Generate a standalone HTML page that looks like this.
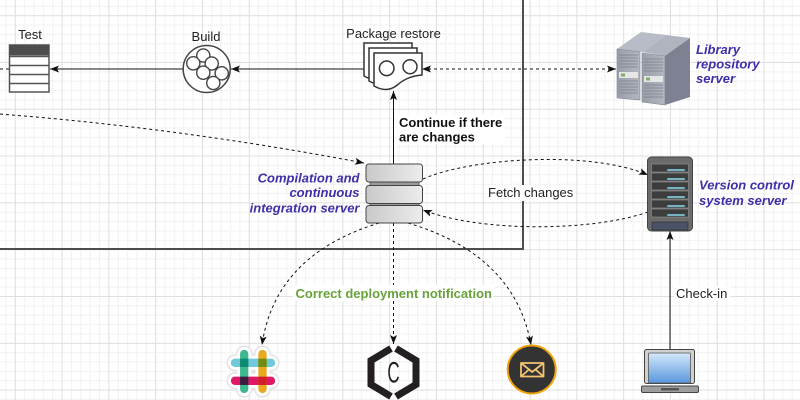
<!DOCTYPE html>
<html><head><meta charset="utf-8"><style>
html,body{margin:0;padding:0;background:#fff;}
svg{display:block;}
text{font-family:"Liberation Sans",Arial,sans-serif;}
</style></head><body>
<svg width="800" height="400" viewBox="0 0 800 400" xmlns="http://www.w3.org/2000/svg">
<defs>
<pattern id="g" x="14.8" y="15.2" width="46.8" height="46.8" patternUnits="userSpaceOnUse">
<path d="M9.86 0V46.8M19.22 0V46.8M28.58 0V46.8M37.94 0V46.8M0 9.86H46.8M0 19.22H46.8M0 28.58H46.8M0 37.94H46.8" stroke="#e4e4e4" stroke-width="1" stroke-dasharray="1 1" fill="none"/>
<path d="M0.5 0V46.8M0 0.5H46.8" stroke="#dedede" stroke-width="1" fill="none"/>
</pattern>
<marker id="a" viewBox="0 0 9 7" refX="9" refY="3.5" markerWidth="9" markerHeight="7" markerUnits="userSpaceOnUse" orient="auto-start-reverse"><path d="M9,3.5 L0,0 L2,3.5 L0,7 Z" fill="#111"/></marker>
<linearGradient id="ci" x1="0" y1="0" x2="1" y2="0"><stop offset="0" stop-color="#c9c9c9"/><stop offset="1" stop-color="#ececec"/></linearGradient>
<linearGradient id="sf" x1="0" y1="0" x2="1" y2="0"><stop offset="0" stop-color="#9a9ea8"/><stop offset="1" stop-color="#b3b7c0"/></linearGradient>
<linearGradient id="scr" x1="0" y1="0" x2="0" y2="1"><stop offset="0" stop-color="#d4e8fa"/><stop offset="1" stop-color="#5b97de"/></linearGradient>
</defs>
<rect width="800" height="400" fill="#fff"/>
<rect width="800" height="400" fill="url(#g)"/>

<!-- big box -->
<rect x="-10" y="-10" width="533" height="259" fill="none" stroke="#4d4d4d" stroke-width="2"/>

<!-- connectors -->
<g fill="none" stroke="#111" stroke-width="1">
<path d="M0,69 H9" stroke-dasharray="3 3"/>
<path d="M183,69 H50" marker-end="url(#a)"/>
<path d="M364,69 H231" marker-end="url(#a)"/>
<path d="M422,69 H616" stroke-dasharray="3 3" marker-start="url(#a)" marker-end="url(#a)"/>
<path d="M393.5,164 V91" marker-end="url(#a)"/>
<path d="M0,114 Q180,128 364,163" stroke-dasharray="3 3" marker-end="url(#a)"/>
<path d="M423,179 C470,158 590,150 648,175" stroke-dasharray="3 3" marker-end="url(#a)"/>
<path d="M648,212 C590,232 480,232 423,210" stroke-dasharray="3 3" marker-end="url(#a)"/>
<path d="M379,223 Q275,255 262,345" stroke-dasharray="3 3" marker-end="url(#a)"/>
<path d="M393.5,223 V344" stroke-dasharray="3 3" marker-end="url(#a)"/>
<path d="M408,223 Q515,255 531,345" stroke-dasharray="3 3" marker-end="url(#a)"/>
<path d="M670,349 V231" marker-end="url(#a)"/>
</g>

<!-- Test -->
<rect x="9.5" y="45" width="39.5" height="47" fill="#fff" stroke="#555" stroke-width="1.5"/>
<rect x="9.5" y="45" width="39.5" height="10.5" fill="#4d4d4d"/>
<path d="M9.5,56.5 H49 M9.5,65.5 H49 M9.5,74.5 H49 M9.5,83.5 H49" stroke="#555" stroke-width="1.5"/>
<text x="30" y="39" font-size="13" text-anchor="middle" fill="#222">Test</text>

<!-- Build -->
<circle cx="206.7" cy="69" r="23.5" fill="#fff" stroke="#444" stroke-width="1.5"/>
<g fill="#fff" stroke="#444" stroke-width="1.4">
<circle cx="203.3" cy="55.5" r="6.6"/>
<circle cx="193.3" cy="63.3" r="6.6"/>
<circle cx="211.7" cy="63.5" r="6.6"/>
<circle cx="203.3" cy="72.7" r="6.6"/>
<circle cx="221.7" cy="73.3" r="6.6"/>
<circle cx="213.3" cy="83" r="6.6"/>
</g>
<text x="206" y="41" font-size="13" text-anchor="middle" fill="#222">Build</text>

<!-- Package restore -->
<g fill="#fff" stroke="#333" stroke-width="1.5">
<path transform="translate(-10,-10)" d="M374,53 H422 V75 C410,76 403,80 396,86 C389,91 381,90 374,86 Z"/>
<path transform="translate(-5,-5)" d="M374,53 H422 V75 C410,76 403,80 396,86 C389,91 381,90 374,86 Z"/>
<path d="M374,53 H422 V75 C410,76 403,80 396,86 C389,91 381,90 374,86 Z"/>
<circle cx="386.7" cy="68.3" r="7.3"/>
<circle cx="410" cy="66.7" r="7"/>
</g>
<text x="393.5" y="38" font-size="13" text-anchor="middle" fill="#222">Package restore</text>

<!-- Library repository server -->
<polygon points="617,49 641,32 666,35 642,52" fill="#b8bcc6"/>
<polygon points="617,49 640,52 640,100 617,98" fill="url(#sf)" stroke="#80848e" stroke-width="0.6"/>
<polygon points="642,52 666,35 690,38 666,56" fill="#b0b4be"/>
<polygon points="642,53 665,56 665,105 642,102" fill="url(#sf)" stroke="#80848e" stroke-width="0.6"/>
<polygon points="665,56 690,38 690,97 665,105" fill="#7d8191"/>
<g stroke="#7c808a" stroke-width="0.8">
<path d="M619,55H638M619,58H638M619,61H638M619,64H638M619,67H638M619,81H638M619,84H638M619,87H638M619,90H638M619,93H638"/>
<path d="M644,59H663M644,62H663M644,65H663M644,68H663M644,71H663M644,85H663M644,88H663M644,91H663M644,94H663M644,97H663"/>
</g>
<rect x="619" y="72" width="19" height="6" fill="#e6e6e6"/>
<rect x="621" y="73.5" width="4" height="3" fill="#7fae6a"/>
<rect x="644" y="76" width="19" height="6" fill="#e6e6e6"/>
<rect x="646" y="77.5" width="4" height="3" fill="#7fae6a"/>
<g font-size="13" font-weight="bold" font-style="italic" fill="#3d2fa8">
<text x="696" y="54">Library</text>
<text x="696" y="68.5">repository</text>
<text x="696" y="83">server</text>
</g>

<!-- Continue label -->
<rect x="397" y="114" width="108" height="30" fill="#fff"/>
<g font-size="13" font-weight="bold" fill="#111">
<text x="399" y="127">Continue if there</text>
<text x="399" y="141.5">are changes</text>
</g>

<!-- CI server -->
<rect x="370" y="181" width="49" height="6" fill="#9a9a9a" stroke="#555" stroke-width="0.8"/>
<rect x="370" y="202" width="49" height="5" fill="#9a9a9a" stroke="#555" stroke-width="0.8"/>
<rect x="366" y="164" width="56.5" height="18" rx="3" fill="url(#ci)" stroke="#444" stroke-width="1"/>
<rect x="366" y="185.5" width="56.5" height="18" rx="3" fill="url(#ci)" stroke="#444" stroke-width="1"/>
<rect x="366" y="205.5" width="56.5" height="17.5" rx="3" fill="url(#ci)" stroke="#444" stroke-width="1"/>
<g font-size="13" font-weight="bold" font-style="italic" fill="#3d2fa8" text-anchor="end">
<text x="359.5" y="182.5">Compilation and</text>
<text x="359.5" y="197">continuous</text>
<text x="359.5" y="212.5">integration server</text>
</g>

<!-- Fetch changes -->
<rect x="486" y="185" width="90" height="16" fill="#fff"/>
<text x="488" y="197" font-size="13" fill="#222">Fetch changes</text>

<!-- VCS server -->
<rect x="647.5" y="157" width="45" height="74" rx="4" fill="#6b6b6b" stroke="#444" stroke-width="1"/>
<g stroke-width="0.7">
<rect x="651.5" y="164" width="37" height="8" fill="#3d3d3d" stroke="#8a8a8a"/>
<rect x="651.5" y="173" width="37" height="8" fill="#3d3d3d" stroke="#8a8a8a"/>
<rect x="651.5" y="182" width="37" height="8" fill="#3d3d3d" stroke="#8a8a8a"/>
<rect x="651.5" y="191" width="37" height="8" fill="#3d3d3d" stroke="#8a8a8a"/>
<rect x="651.5" y="200" width="37" height="8" fill="#3d3d3d" stroke="#8a8a8a"/>
<rect x="651.5" y="209" width="37" height="8" fill="#3d3d3d" stroke="#8a8a8a"/>
</g>
<g fill="#93d6e3" stroke="#2a4a55" stroke-width="0.5">
<rect x="667" y="169" width="18" height="2"/>
<rect x="667" y="178" width="18" height="2"/>
<rect x="667" y="187" width="18" height="2"/>
<rect x="667" y="196" width="18" height="2"/>
<rect x="667" y="205" width="18" height="2"/>
<rect x="667" y="214" width="18" height="2"/>
</g>
<rect x="652" y="222" width="36" height="8" fill="#4a5268" stroke="#333" stroke-width="0.7"/>
<g font-size="13" font-weight="bold" font-style="italic" fill="#3d2fa8">
<text x="699" y="189.5">Version control</text>
<text x="699" y="205">system server</text>
</g>

<!-- Check-in -->
<rect x="674" y="286" width="56" height="15" fill="#fff"/>
<text x="676" y="298" font-size="13" fill="#222">Check-in</text>

<!-- Laptop -->
<rect x="644.5" y="349.5" width="50" height="34" rx="2" fill="#d0d0d0" stroke="#444" stroke-width="1"/>
<rect x="648.5" y="353" width="42" height="30" rx="1" fill="url(#scr)" stroke="#555" stroke-width="0.8"/>
<rect x="641.5" y="386" width="57" height="6.5" rx="1.5" fill="#9e9e9e" stroke="#444" stroke-width="1"/>
<rect x="661" y="388" width="18" height="2.5" fill="#555"/>

<!-- notification label -->
<rect x="293" y="285" width="201" height="16" fill="#fff"/>
<text x="295.5" y="298" font-size="13" font-weight="bold" fill="#67a23a">Correct deployment notification</text>

<!-- Slack -->
<g stroke-linecap="round" fill="none">
<g stroke="#e2e2e2" stroke-width="17">
<path d="M244.2,354 V389 M262.5,354 V389 M235,362.8 H271 M235,380.8 H271"/>
</g>
<g stroke="#fff" stroke-width="14">
<path d="M244.2,354 V389 M262.5,354 V389 M235,362.8 H271 M235,380.8 H271"/>
</g>
<g stroke-width="8.3">
<path d="M235,362.8 H271" stroke="#70cadb"/>
<path d="M235,380.8 H271" stroke="#e01765"/>
<path d="M244.2,354 V389" stroke="#3eb890"/>
<path d="M262.5,354 V389" stroke="#e9a820"/>
</g>
</g>
<rect x="240.05" y="358.65" width="8.3" height="8.3" fill="#0f8a72"/>
<rect x="258.35" y="358.65" width="8.3" height="8.3" fill="#6e8c10"/>
<rect x="240.05" y="376.65" width="8.3" height="8.3" fill="#3e1c3e"/>
<rect x="258.35" y="376.65" width="8.3" height="8.3" fill="#d01f28"/>

<!-- hexagon C -->
<g fill="none" stroke="#231f20" stroke-width="7" stroke-linejoin="miter">
<polyline points="391,348.5 371,360.5 371,384.5 391,396.5"/>
<polyline points="396,348.5 416,360.5 416,384.5 396,396.5"/>
</g>
<text x="393.5" y="0" font-size="17" text-anchor="middle" fill="#231f20" transform="translate(0,382.5) scale(1,1.75)">C</text>

<!-- Envelope -->
<circle cx="531.7" cy="369.5" r="24" fill="#333" stroke="#f0a30a" stroke-width="2"/>
<g fill="none" stroke="#f3c36f" stroke-width="1.8" stroke-linejoin="round">
<rect x="521" y="363" width="22.5" height="13.5"/>
<polyline points="521,363 532.2,372 543.5,363"/>
<path d="M521,376.5 L529,369.5 M543.5,376.5 L535.5,369.5"/>
</g>
</svg>
</body></html>
